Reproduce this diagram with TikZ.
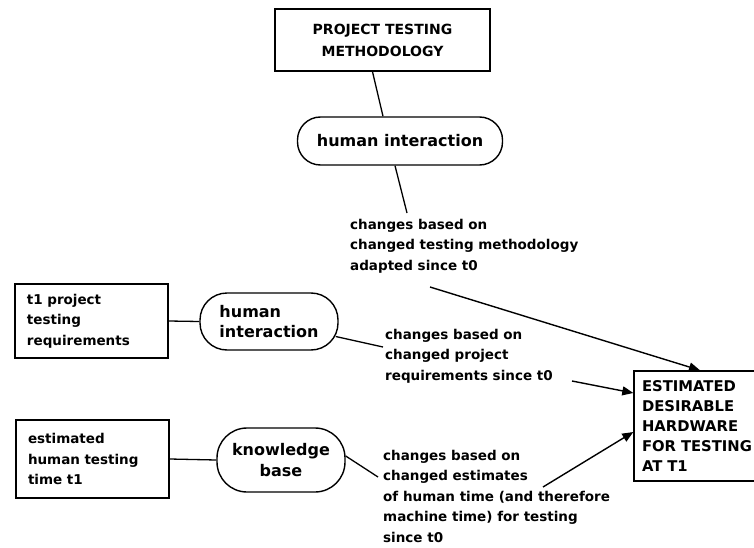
\documentclass[tikz,border=0pt]{standalone}
\usepackage{fontspec}
\setmainfont{DejaVu Sans}
\usetikzlibrary{arrows.meta,positioning}

\begin{document}
\begin{tikzpicture}[x=1pt,y=-1pt,
box/.style={draw,line width=1.4pt,align=left,inner xsep=12pt,font=\bfseries\fontsize{13.5}{20.5}\selectfont},
blob/.style={draw,line width=1.4pt,rounded corners=24pt,font=\bfseries\fontsize{16}{20.5}\selectfont},
lab/.style={anchor=north west,inner sep=0pt,align=left,font=\bfseries\fontsize{13.5}{20.5}\selectfont},
link/.style={line width=1.3pt},
arr/.style={-{Triangle[length=11pt,width=9pt]},line width=1.4pt}]
\useasboundingbox (0,0) rectangle (754,548);
\clip (0,0) rectangle (754,548);
\node[box,align=center,minimum width=215,minimum height=62,font=\bfseries\fontsize{14}{22}\selectfont] (method) at (382.5,40) {PROJECT TESTING\\METHODOLOGY};
\node[blob,minimum width=205,minimum height=48,rounded corners=23pt] (hi1) at (400,141) {human interaction};
\node[lab] (lab1) at (350,219) {changes based on\\changed testing methodology\\adapted since t0};
\node[box,text width=129,minimum height=74] (req) at (91.5,321) {t1 project\\testing\\requirements};
\node[blob,align=left,minimum width=138,minimum height=57,rounded corners=27pt] (hi2) at (269,321.5) {human\\interaction};
\node[lab] (lab2) at (385,329) {changes based on\\changed project\\requirements since t0};
\node[box,text width=129,minimum height=78] (time) at (92.5,459) {estimated\\human testing\\time t1};
\node[blob,align=center,minimum width=128,minimum height=64,rounded corners=30pt] (kb) at (281,460) {knowledge\\base};
\node[lab] (lab3) at (383,450) {changes based on\\changed estimates\\of human time (and therefore\\machine time) for testing\\since t0};
\node[box,text width=135,inner xsep=8pt,minimum height=110,font=\bfseries\fontsize{14.8}{20}\selectfont] (est) at (709.5,426) {ESTIMATED\\DESIRABLE\\HARDWARE\\FOR TESTING\\AT T1};
\draw[link] ([xshift=-10pt]method.south) -- ([xshift=-17pt]hi1.north);
\draw[link] ([xshift=-5pt]hi1.south) -- ([shift={(57pt,6pt)}]lab1.north west);
\draw[link] (req.east) -- (hi2.west);
\draw[link] ([shift={(-3pt,-15pt)}]hi2.east) -- ([shift={(-2pt,-18pt)}]lab2.north west);
\draw[link] (time.east) -- (kb.west);
\draw[link] ([yshift=4pt]kb.east) -- ([shift={(-5pt,-27pt)}]lab3.north west);
\coordinate (from1) at (430,287);
\coordinate (from2) at (572,381);
\coordinate (from3) at (543,487);
\draw[arr] (from1) -- ([xshift=-9.5pt]est.north);
\draw[arr] (from2) -- ([yshift=33pt]est.west);
\draw[arr] (from3) -- ([yshift=-6pt]est.west);
\end{tikzpicture}
\end{document}
